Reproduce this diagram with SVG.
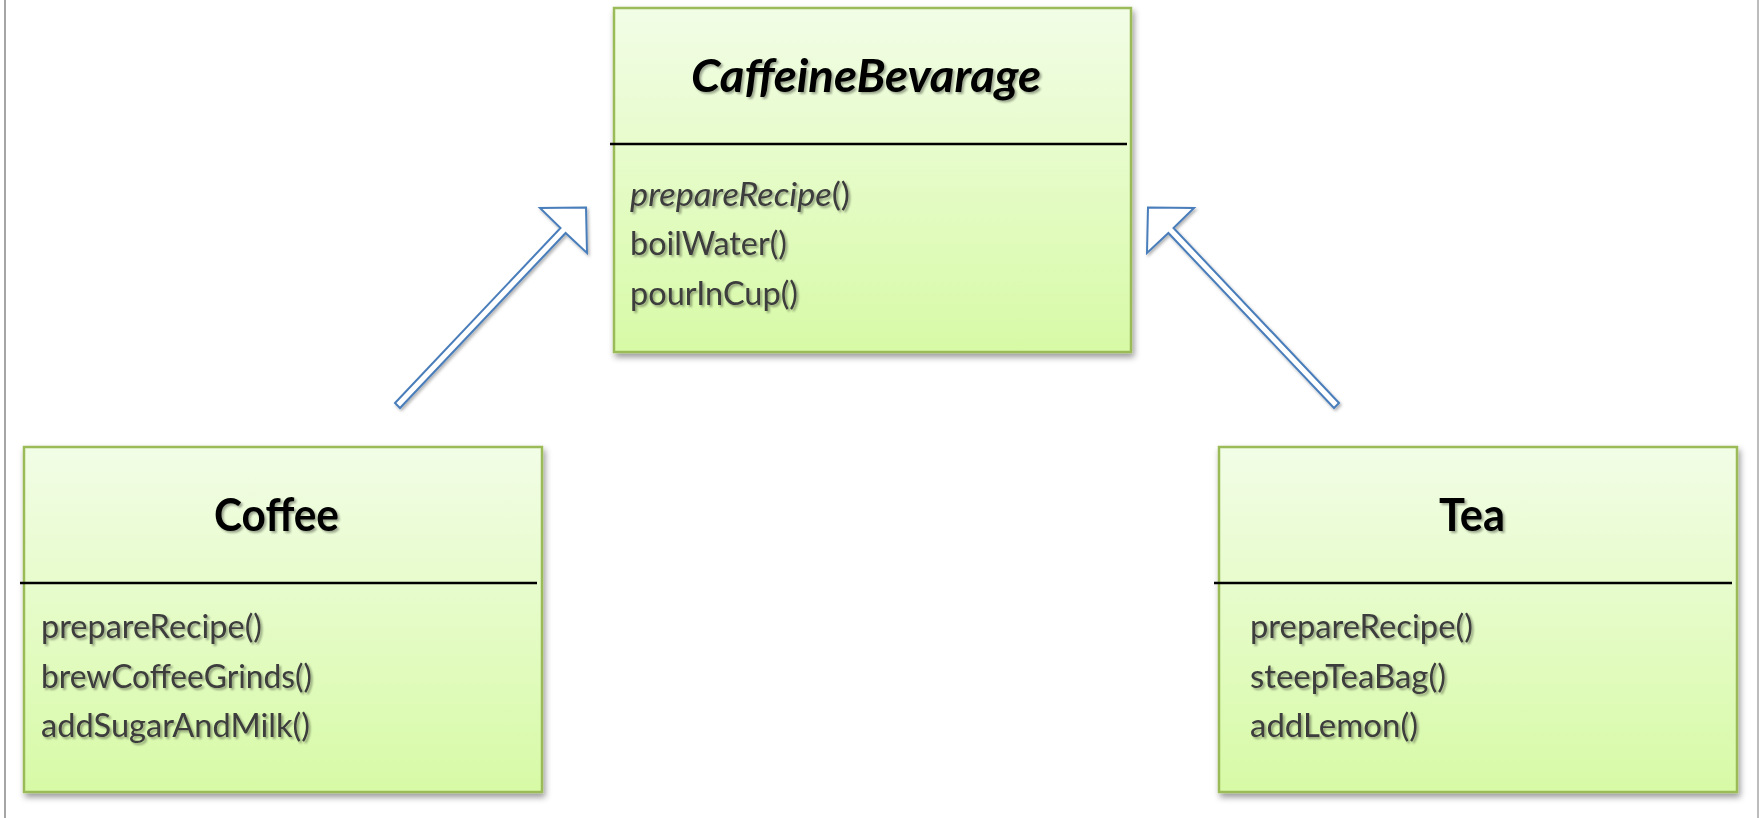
<svg xmlns="http://www.w3.org/2000/svg" width="1759" height="818" viewBox="0 0 1759 818">
  <defs>
    <linearGradient id="classFill" x1="0" y1="0" x2="0" y2="1">
      <stop offset="0" stop-color="#f2fde6"/>
      <stop offset="1" stop-color="#d7faa6"/>
    </linearGradient>
    <filter id="boxShadow" x="-10%" y="-10%" width="120%" height="125%">
      <feDropShadow dx="2" dy="4" stdDeviation="3" flood-color="#000" flood-opacity="0.4"/>
    </filter>
    <filter id="textShadow" x="-5%" y="-20%" width="110%" height="150%">
      <feDropShadow dx="2" dy="2" stdDeviation="1.3" flood-color="#000" flood-opacity="0.35"/>
    </filter>
    <filter id="arrowShadow" x="-10%" y="-10%" width="125%" height="125%">
      <feDropShadow dx="1.5" dy="2" stdDeviation="1.5" flood-color="#000" flood-opacity="0.3"/>
    </filter>
    <style>
      .box { fill: url(#classFill); stroke: #9bbb59; stroke-width: 2.5; filter: url(#boxShadow); }
      .divider { stroke: #000; stroke-width: 2.6; }
      .title { font-family: Lato, "Liberation Sans", sans-serif; font-weight: bold; font-size: 46px; fill: #000; filter: url(#textShadow); }
      .abstract { font-style: italic; }
      .op { font-family: Lato, "Liberation Sans", sans-serif; font-size: 32px; fill: #3c3c3c; filter: url(#textShadow); }
      .gen { fill: #fff; stroke: #4a7ebb; stroke-width: 2; stroke-linejoin: miter; filter: url(#arrowShadow); }
      .frame { stroke: #a6a6a6; }
    </style>
  </defs>

  <rect width="1759" height="818" fill="#fff"/>
  <line class="frame" x1="5" y1="0" x2="5" y2="818" stroke-width="2"/>
  <line class="frame" x1="1758" y1="0" x2="1758" y2="818" stroke-width="1.5"/>

  <!-- generalization arrows: subclasses point up to the abstract base -->
  <g id="connectors">
    <polygon class="gen" points="395,403 560.5,228 540,208 586,207.5 587,253 565.6,233 400,408"/>
    <polygon class="gen" points="1339,403 1173.5,228 1194,208 1148,207.5 1147,253 1168.4,233 1334,408"/>
  </g>

  <!-- abstract base class -->
  <g id="CaffeineBevarage">
    <rect class="box" x="614" y="8" width="517" height="344"/>
    <line class="divider" x1="610" y1="144" x2="1127" y2="144"/>
    <text class="title abstract" x="691" y="92" textLength="350" lengthAdjust="spacingAndGlyphs">CaffeineBevarage</text>
    <text class="op" x="630" y="206" textLength="220" lengthAdjust="spacingAndGlyphs"><tspan font-style="italic">prepareRecipe</tspan>()</text>
    <text class="op" x="630" y="255" textLength="157" lengthAdjust="spacingAndGlyphs">boilWater()</text>
    <text class="op" x="630" y="305" textLength="168" lengthAdjust="spacingAndGlyphs">pourInCup()</text>
  </g>

  <g id="Coffee">
    <rect class="box" x="24" y="447" width="518" height="345"/>
    <line class="divider" x1="20" y1="583" x2="537" y2="583"/>
    <text class="title" x="214" y="531" textLength="125" lengthAdjust="spacingAndGlyphs">Coffee</text>
    <text class="op" x="41" y="638" textLength="221" lengthAdjust="spacingAndGlyphs">prepareRecipe()</text>
    <text class="op" x="41" y="688" textLength="271" lengthAdjust="spacingAndGlyphs">brewCoffeeGrinds()</text>
    <text class="op" x="41" y="737" textLength="269" lengthAdjust="spacingAndGlyphs">addSugarAndMilk()</text>
  </g>

  <g id="Tea">
    <rect class="box" x="1219" y="447" width="518" height="345"/>
    <line class="divider" x1="1214" y1="583" x2="1732" y2="583"/>
    <text class="title" x="1439" y="531" textLength="66" lengthAdjust="spacingAndGlyphs">Tea</text>
    <text class="op" x="1250" y="638" textLength="223" lengthAdjust="spacingAndGlyphs">prepareRecipe()</text>
    <text class="op" x="1250" y="688" textLength="196" lengthAdjust="spacingAndGlyphs">steepTeaBag()</text>
    <text class="op" x="1250" y="737" textLength="168" lengthAdjust="spacingAndGlyphs">addLemon()</text>
  </g>
</svg>
